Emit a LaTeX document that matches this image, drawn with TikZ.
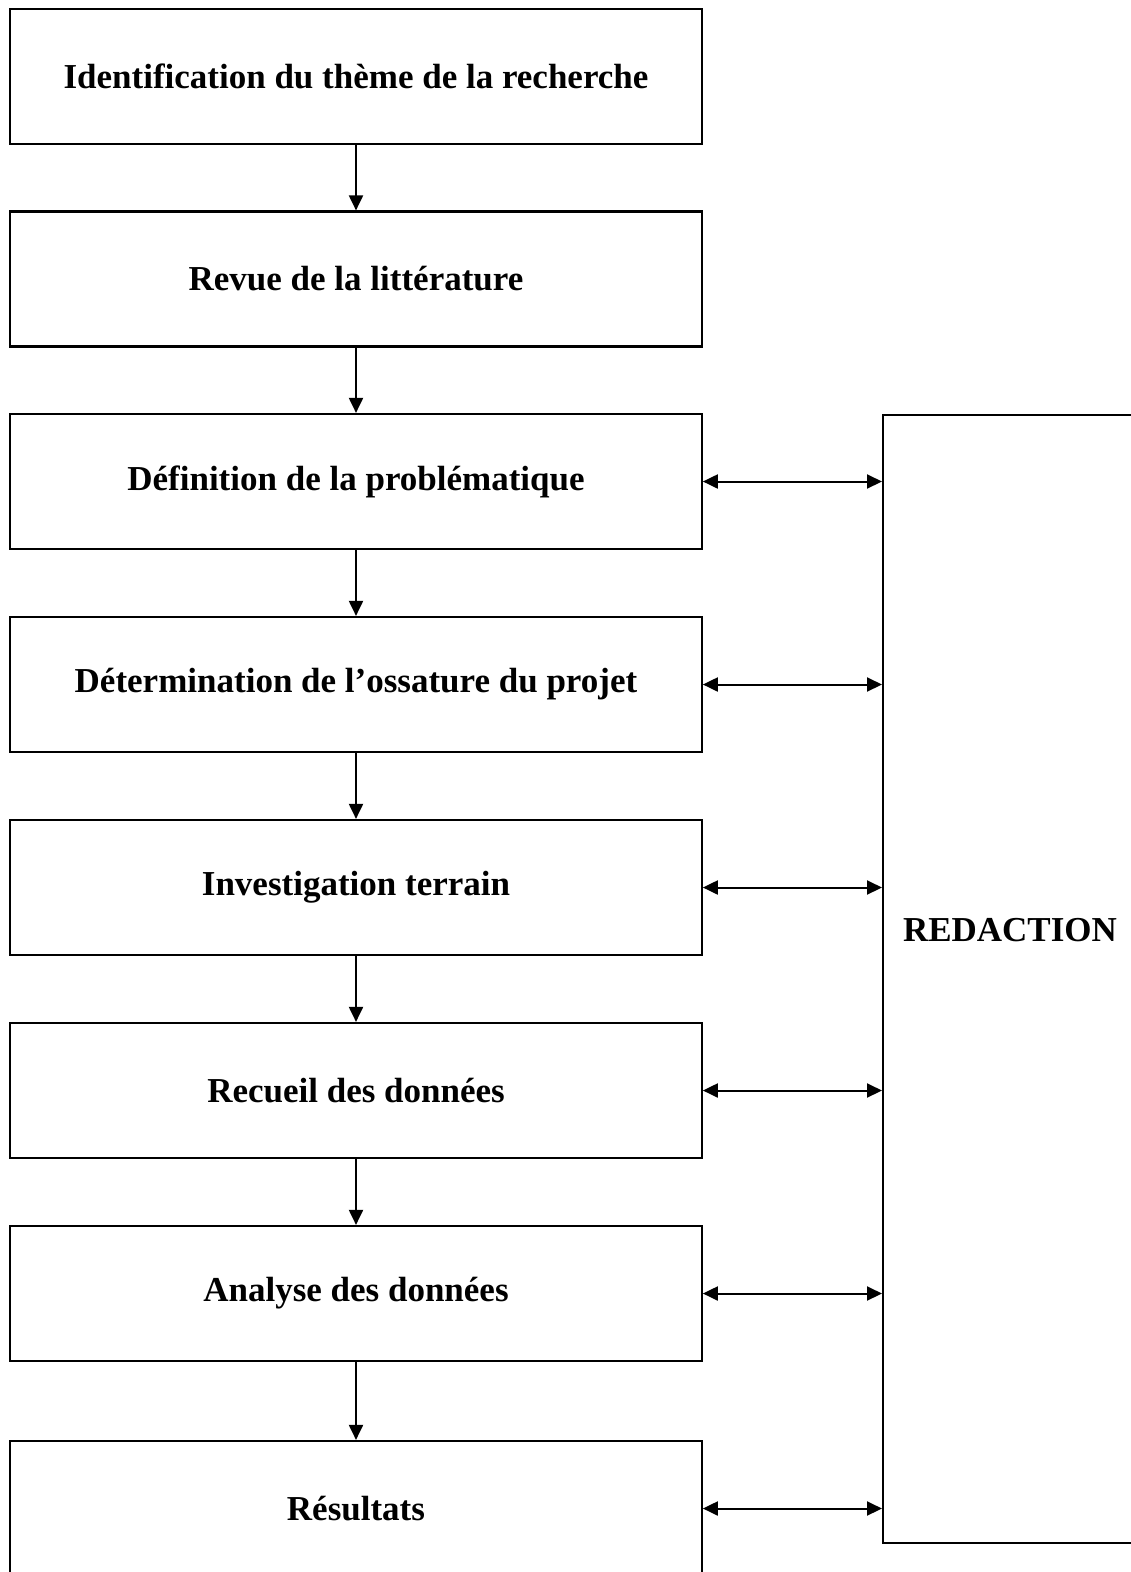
\documentclass[tikz,border=0pt]{standalone}
\usepackage{fontspec}
\setmainfont{Liberation Serif}
\usetikzlibrary{arrows.meta}
\begin{document}
\begin{tikzpicture}[x=1pt,y=-1pt,
  stepbox/.style={draw,line width=2.2pt,rectangle,minimum width=691.5pt,minimum height=135pt,inner sep=0pt,font=\fontsize{35}{42}\selectfont\bfseries},
  flow/.style={line width=2pt,-{Triangle[length=15pt,width=14pt]}},
  both/.style={line width=2pt,{Triangle[length=15pt,width=14pt]}-{Triangle[length=15pt,width=14pt]}}]
\useasboundingbox (0,0) rectangle (1131,1572);
\clip (0,0) rectangle (1131,1572);
\node[stepbox] (s1) at (356,76.5) {Identification du thème de la recherche};
\node[stepbox] (s2) at (356,279) {Revue de la littérature};
\node[stepbox] (s3) at (356,481.5) {Définition de la problématique};
\node[stepbox] (s4) at (356,684.5) {Détermination de l’ossature du projet};
\node[stepbox] (s5) at (356,887.5) {Investigation terrain};
\node[stepbox] (s6) at (356,1090.5) {Recueil des données};
\node[stepbox] (s7) at (356,1293.5) {Analyse des données};
\node[stepbox] (s8) at (356,1508.5) {Résultats};
% side column
\node[draw,line width=2.2pt,rectangle,minimum width=260pt,minimum height=1128pt,inner sep=0pt,anchor=north west] (red) at (882,414) {};
\node[font=\fontsize{35}{42}\selectfont\bfseries] (redtxt) at (1010,930) {REDACTION};
\foreach \a/\b in {s1/s2,s2/s3,s3/s4,s4/s5,s5/s6,s6/s7,s7/s8}
  \draw[flow] (\a.south) -- (\b.north);
\foreach \s in {s3,s4,s5,s6,s7,s8}
  \draw[both] (\s.east) -- (\s.east -| red.west);
\end{tikzpicture}
\end{document}
